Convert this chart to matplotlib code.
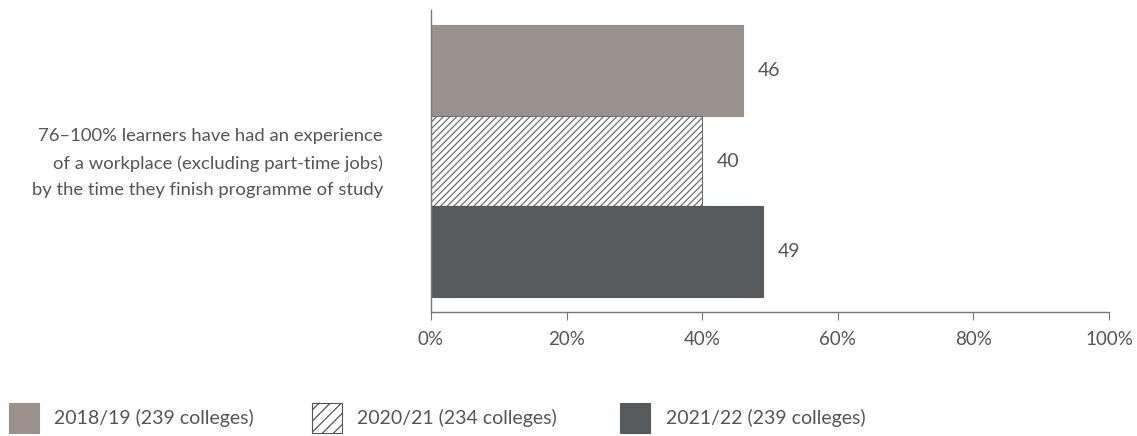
import matplotlib
matplotlib.use("Agg")
import matplotlib.pyplot as plt
from matplotlib.patches import Rectangle

plt.rcParams['font.family'] = ['Lato', 'DejaVu Sans']
plt.rcParams['hatch.linewidth'] = 0.9

category = ("76\u2013100% learners have had an experience\n"
            "of a workplace (excluding part-time jobs)\n"
            "by the time they finish programme of study")
series_labels = ["2018/19 (239 colleges)", "2020/21 (234 colleges)", "2021/22 (239 colleges)"]
values = [46, 40, 49]
xticks = [0, 20, 40, 60, 80, 100]
xtick_labels = ["0%", "20%", "40%", "60%", "80%", "100%"]

text_col = "#555555"
face_cols = ["#9a918d", "white", "#575a5c"]
edge_cols = ["#9a918d", "#6e6e6e", "#575a5c"]
hatches = [None, "/////", None]

W, H = 1137, 436
fig = plt.figure(figsize=(W / 100, H / 100), dpi=100)
ax = fig.add_axes([431 / W, 1 - 312 / H, (1109 - 431) / W, 302 / H])

for i, (v, fc, ec, h) in enumerate(zip(values, face_cols, edge_cols, hatches)):
    ax.barh(i, v, height=1.0, color=fc, edgecolor=ec, hatch=h, linewidth=0.8)
    ax.text(v + 2.2, i, str(v), va="center", ha="left", fontsize=14, color=text_col)

ax.set_ylim(2.665, -0.665)
ax.set_xlim(0, 100)
ax.set_xticks(xticks)
ax.set_xticklabels(xtick_labels, fontsize=13.5, color=text_col)
ax.set_yticks([])
for s in ["top", "right"]:
    ax.spines[s].set_visible(False)
for s in ["left", "bottom"]:
    ax.spines[s].set_color("#777777")
    ax.spines[s].set_linewidth(1.0)
ax.tick_params(axis="x", direction="out", length=6, color="#777777", pad=8)

fig.text(383 / W, 1 - 163 / H, category, ha="right", va="center",
         fontsize=13.3, color=text_col, linespacing=1.8, multialignment="right")

# legend swatches drawn along the bottom of the figure
leg_x = [9, 312, 620]
lbl_x = [54, 357, 666]
for lx, tx, fc, ec, h, lab in zip(leg_x, lbl_x, face_cols, edge_cols, hatches, series_labels):
    rect = Rectangle((lx / W, 1 - 433 / H), 30 / W, 30 / H,
                     transform=fig.transFigure, facecolor=fc,
                     edgecolor=("#555555" if h else ec),
                     hatch=("///" if h else None), linewidth=0.8)
    fig.add_artist(rect)
    fig.text(tx / W, 1 - 418 / H, lab, ha="left", va="center",
             fontsize=14, color=text_col)

fig.savefig("out.png", dpi=100)
